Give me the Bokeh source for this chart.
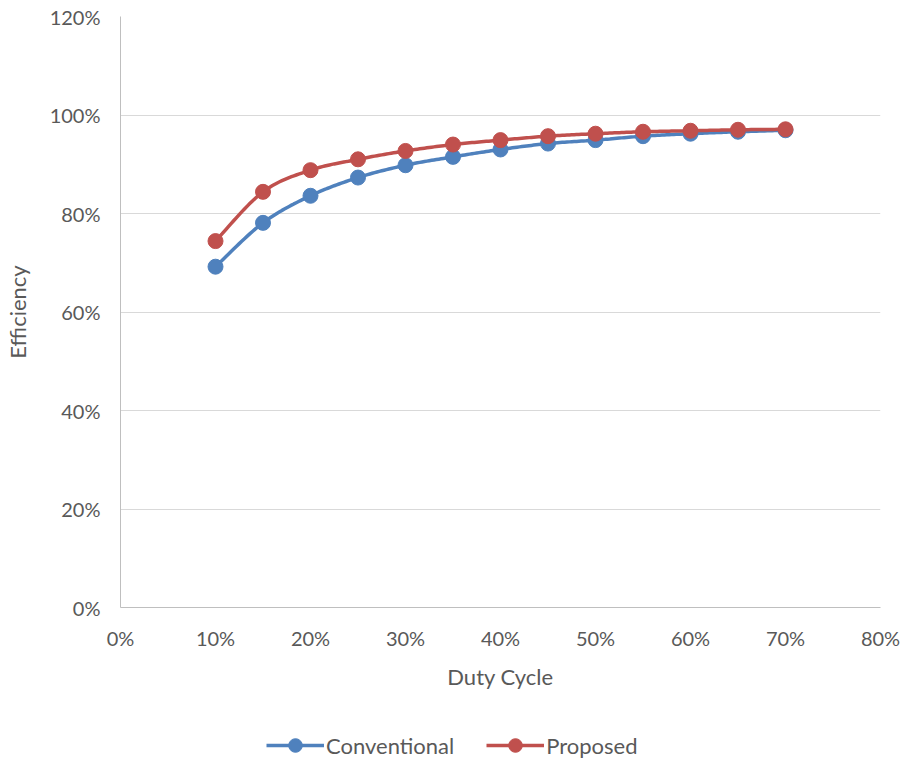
import numpy as np
from bokeh.plotting import figure
from bokeh.layouts import column
from bokeh.models import (ColumnDataSource, Range1d, FixedTicker, NumeralTickFormatter,
                          Legend, LegendItem)
from bokeh.embed import file_html
from bokeh.resources import INLINE

# Duty cycle (fraction) and measured efficiency (fraction) for the two converters
duty_cycle = [0.10, 0.15, 0.20, 0.25, 0.30, 0.35, 0.40, 0.45, 0.50, 0.55, 0.60, 0.65, 0.70]
conventional = [0.692, 0.781, 0.836, 0.873, 0.898, 0.915, 0.930, 0.942, 0.949, 0.957, 0.962, 0.966, 0.969]
proposed = [0.744, 0.844, 0.888, 0.910, 0.927, 0.940, 0.949, 0.957, 0.962, 0.966, 0.968, 0.970, 0.971]
series_names = ["Conventional", "Proposed"]

x_ticks = [0.0, 0.1, 0.2, 0.3, 0.4, 0.5, 0.6, 0.7, 0.8]
y_ticks = [0.0, 0.2, 0.4, 0.6, 0.8, 1.0, 1.2]

BLUE = "#4f81bd"
RED = "#c0504d"
TEXT = "#595959"
FONT = "Lato"


def smooth(xs, ys, n=20):
    """Cardinal-spline curve through the points, like a spreadsheet's smoothed line."""
    xs = np.asarray(xs, float)
    ys = np.asarray(ys, float)
    px = np.concatenate([[xs[0]], xs, [xs[-1]]])
    py = np.concatenate([[ys[0]], ys, [ys[-1]]])
    t = np.linspace(0, 1, n, endpoint=False)
    ox, oy = [], []
    for i in range(1, len(px) - 2):
        p0x, p1x, p2x, p3x = px[i - 1], px[i], px[i + 1], px[i + 2]
        p0y, p1y, p2y, p3y = py[i - 1], py[i], py[i + 1], py[i + 2]
        m1x, m1y = (p2x - p0x) / 2, (p2y - p0y) / 2
        m2x, m2y = (p3x - p1x) / 2, (p3y - p1y) / 2
        h00 = 2 * t**3 - 3 * t**2 + 1
        h10 = t**3 - 2 * t**2 + t
        h01 = -2 * t**3 + 3 * t**2
        h11 = t**3 - t**2
        ox.extend(h00 * p1x + h10 * m1x + h01 * p2x + h11 * m2x)
        oy.extend(h00 * p1y + h10 * m1y + h01 * p2y + h11 * m2y)
    ox.append(xs[-1])
    oy.append(ys[-1])
    return ox, oy


# ---- main chart ----
p = figure(width=904, height=712, output_backend="svg", toolbar_location=None,
           x_range=Range1d(0, 0.8), y_range=Range1d(0, 1.2),
           min_border_left=120, min_border_right=24, min_border_top=16,
           min_border_bottom=105)
p.outline_line_color = None
p.background_fill_color = "white"

p.xgrid.grid_line_color = None
p.ygrid.grid_line_color = "#d9d9d9"
p.ygrid.grid_line_width = 1

for ax in (p.xaxis, p.yaxis):
    ax.axis_line_color = "#bfbfbf"
    ax.axis_line_width = 1
    ax.major_tick_line_color = None
    ax.minor_tick_line_color = None
    ax.major_label_text_font = FONT
    ax.major_label_text_font_size = "20px"
    ax.major_label_text_color = TEXT
    ax.axis_label_text_font = FONT
    ax.axis_label_text_font_size = "22px"
    ax.axis_label_text_font_style = "normal"
    ax.axis_label_text_color = TEXT
    ax.formatter = NumeralTickFormatter(format="0%")

p.xaxis.ticker = FixedTicker(ticks=x_ticks)
p.yaxis.ticker = FixedTicker(ticks=y_ticks)
p.xaxis.axis_label = "Duty Cycle"
p.yaxis.axis_label = "Efficiency"
p.xaxis.major_label_standoff = 12
p.xaxis.axis_label_standoff = 10
p.yaxis.major_label_standoff = 14
p.yaxis.axis_label_standoff = 16

colors = [BLUE, RED]
series = [conventional, proposed]
for ys, color in zip(series, colors):
    sx, sy = smooth(duty_cycle, ys)
    p.line(sx, sy, line_color=color, line_width=3.5)
    src = ColumnDataSource(dict(x=duty_cycle, y=ys))
    p.scatter("x", "y", source=src, size=15, fill_color=color, line_color=color)

# ---- legend strip underneath ----
# The strip's x range lies away from the data, so its renderers only feed the legend keys.
lg = figure(width=904, height=52, output_backend="svg", toolbar_location=None,
            x_range=Range1d(10, 11), y_range=Range1d(0, 1),
            min_border_left=0, min_border_right=0, min_border_top=0, min_border_bottom=0)
lg.axis.visible = False
lg.grid.visible = False
lg.outline_line_color = None

items = []
for name, ys, color in zip(series_names, series, colors):
    src = ColumnDataSource(dict(x=duty_cycle, y=ys))
    ln = lg.line("x", "y", source=src, line_color=color, line_width=3.5)
    dt = lg.scatter("x", "y", source=src, size=15, fill_color=color, line_color=color)
    items.append(LegendItem(label=name, renderers=[ln, dt]))

# the column aligns this strip's frame with the chart frame, so x is measured from there
legend = Legend(items=items, orientation="horizontal", location=(146, 2),
                background_fill_alpha=0, border_line_color=None,
                label_text_font=FONT, label_text_font_size="22px",
                label_text_color=TEXT, glyph_width=58, glyph_height=34,
                spacing=32, label_standoff=2, padding=0, margin=0)
lg.add_layout(legend)

page = column(p, lg, spacing=0)
open("out.html", "w").write(file_html(page, INLINE))
